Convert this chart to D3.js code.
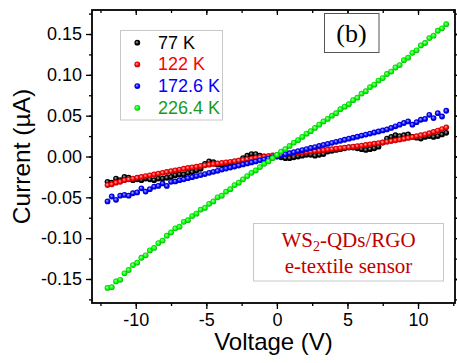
<!DOCTYPE html>
<html>
<head>
<meta charset="utf-8">
<script src="https://cdn.jsdelivr.net/npm/d3@7"></script>
<style>
  html, body { margin: 0; padding: 0; background: #fff; }
  svg { display: block; }
  .tick text { font-family: 'Liberation Sans', Arial, sans-serif; }
</style>
</head>
<body>
<div id="chart"></div>
<script>
'use strict';

// voltage sweep (V)
var voltage = [
  -12, -11.7, -11.4, -11.1, -10.8, -10.5, -10.2, -9.9, -9.6, -9.3,
  -9, -8.7, -8.4, -8.1, -7.8, -7.5, -7.2, -6.9, -6.6, -6.3,
  -6, -5.7, -5.4, -5.1, -4.8, -4.5, -4.2, -3.9, -3.6, -3.3,
  -3, -2.7, -2.4, -2.1, -1.8, -1.5, -1.2, -0.9, -0.6, -0.3,
  0, 0.3, 0.6, 0.9, 1.2, 1.5, 1.8, 2.1, 2.4, 2.7,
  3, 3.3, 3.6, 3.9, 4.2, 4.5, 4.8, 5.1, 5.4, 5.7,
  6, 6.3, 6.6, 6.9, 7.2, 7.5, 7.8, 8.1, 8.4, 8.7,
  9, 9.3, 9.6, 9.9, 10.2, 10.5, 10.8, 11.1, 11.4, 11.7,
  12
];

// current (uA) for each temperature
var current77 = [
  -0.031, -0.032, -0.027, -0.029, -0.025, -0.026, -0.029, -0.028, -0.029, -0.027,
  -0.028, -0.029, -0.027, -0.027, -0.026, -0.025, -0.023, -0.022, -0.022, -0.020,
  -0.019, -0.017, -0.015, -0.009, -0.006, -0.007, -0.010, -0.010, -0.009, -0.008,
  -0.007, -0.005, -0.002, 0.001, 0.003, 0.003, 0.001, 0.000, 0.000, 0.000,
  0.000, -0.001, -0.002, -0.002, -0.001, 0.000, 0.001, 0.002, 0.002, 0.001,
  0.002, 0.003, 0.006, 0.007, 0.008, 0.009, 0.010, 0.011, 0.011, 0.010,
  0.009, 0.008, 0.009, 0.010, 0.012, 0.017, 0.022, 0.024, 0.026, 0.025,
  0.026, 0.027, 0.024, 0.023, 0.022, 0.024, 0.025, 0.024, 0.025, 0.027,
  0.029
];

var current122 = [
  -0.035, -0.034, -0.032, -0.031, -0.029, -0.028, -0.027, -0.026, -0.025, -0.024,
  -0.023, -0.022, -0.021, -0.020, -0.019, -0.018, -0.017, -0.016, -0.015, -0.014,
  -0.0133, -0.0125, -0.0116, -0.0108, -0.010, -0.0093, -0.0086, -0.0079, -0.0072, -0.0065,
  -0.0058, -0.005, -0.0042, -0.0034, -0.0026, -0.0018, -0.001, -0.0002, 0.0005, 0.0012,
  0.0018, 0.0024, 0.003, 0.0035, 0.004, 0.0045, 0.005, 0.0055, 0.006, 0.0066,
  0.0072, 0.0078, 0.0084, 0.009, 0.0096, 0.0102, 0.0108, 0.0114, 0.012, 0.0127,
  0.0134, 0.0141, 0.0148, 0.0156, 0.0164, 0.0172, 0.018, 0.0189, 0.0198, 0.0207,
  0.0217, 0.0227, 0.0238, 0.0249, 0.026, 0.0272, 0.0285, 0.0301, 0.0318, 0.0336,
  0.0357
];

var current1726 = [
  -0.055, -0.049, -0.053, -0.048, -0.047, -0.048, -0.045, -0.044, -0.039, -0.043,
  -0.040, -0.037, -0.036, -0.033, -0.036, -0.031, -0.0305, -0.029, -0.028, -0.0265,
  -0.0253, -0.024, -0.0228, -0.0215, -0.020, -0.0188, -0.0175, -0.016, -0.0148, -0.0135,
  -0.0123, -0.011, -0.0097, -0.0085, -0.0072, -0.006, -0.0047, -0.0035, -0.0022, -0.001,
  0.0003, 0.0015, 0.0028, 0.004, 0.0053, 0.0066, 0.0078, 0.0091, 0.0104, 0.0116,
  0.0129, 0.0142, 0.0154, 0.0167, 0.018, 0.0192, 0.0205, 0.0218, 0.023, 0.0243,
  0.0256, 0.0268, 0.0281, 0.0294, 0.0306, 0.0319, 0.0332, 0.035, 0.037, 0.039,
  0.041, 0.043, 0.039, 0.042, 0.045, 0.046, 0.051, 0.047, 0.053, 0.049,
  0.056
];

var current2264 = [
  -0.161, -0.160, -0.153, -0.151, -0.143, -0.139, -0.133, -0.130, -0.124, -0.121,
  -0.115, -0.112, -0.106, -0.103, -0.097, -0.093, -0.088, -0.086, -0.080, -0.078,
  -0.073, -0.070, -0.065, -0.063, -0.058, -0.055, -0.050, -0.048, -0.043, -0.040,
  -0.035, -0.032, -0.028, -0.024, -0.020, -0.017, -0.013, -0.009, -0.006, -0.002,
  0.002, 0.006, 0.009, 0.013, 0.017, 0.020, 0.024, 0.028, 0.031, 0.035,
  0.039, 0.043, 0.046, 0.050, 0.053, 0.058, 0.061, 0.064, 0.069, 0.072,
  0.077, 0.080, 0.085, 0.088, 0.093, 0.096, 0.101, 0.104, 0.109, 0.112,
  0.118, 0.121, 0.127, 0.130, 0.136, 0.139, 0.145, 0.148, 0.154, 0.157,
  0.162
];

var seriesNames = ['77 K', '122 K', '172.6 K', '226.4 K'];
var seriesValues = [current77, current122, current1726, current2264];

var xTicks = [-10, -5, 0, 5, 10];
var yTicks = [-0.15, -0.10, -0.05, 0.00, 0.05, 0.10, 0.15];

var W = 457
  , H = 363
  , margin = { left: 92, right: 2, top: 10, bottom: 60 }
  , sans = "'Liberation Sans', Arial, sans-serif"
  , serif = "'Liberation Serif', 'Times New Roman', serif"
  , markerColors = ['#000000', '#ff0000', '#0000ff', '#00ff00']
  , textColors = ['#000000', '#ff0000', '#0000ff', '#1a9a1a']
  , markerR = 2.9
;

var x = d3.scaleLinear().domain([-13.1, 12.62]).range([margin.left, W - margin.right]);
var y = d3.scaleLinear().domain([-0.1794, 0.1794]).range([H - margin.bottom, margin.top]);

// keep the plain hyphen the original uses
function hyphen(fmt) {
  return function (d) { return fmt(d).replace('\u2212', '-'); };
}

var svg = d3.select('#chart').append('svg')
    .attr('width', W)
    .attr('height', H);

// sphere-like marker fills
var defs = svg.append('defs');
markerColors.forEach(function (c, i) {
  var g = defs.append('radialGradient')
      .attr('id', 'ball' + i)
      .attr('cx', '50%').attr('cy', '50%').attr('r', '55%')
      .attr('fx', '40%').attr('fy', '38%');
  g.append('stop').attr('offset', '0%').attr('stop-color', d3.interpolateRgb(c, '#ffffff')(0.7));
  g.append('stop').attr('offset', '55%').attr('stop-color', c);
  g.append('stop').attr('offset', '100%').attr('stop-color', d3.interpolateRgb(c, '#000000')(0.35));
});

var x0 = x.range()[0], x1 = x.range()[1], y0 = y.range()[0], y1 = y.range()[1];

// data
var plot = svg.append('g');
seriesValues.forEach(function (vals, i) {
  plot.append('g')
    .selectAll('circle')
    .data(vals)
    .enter()
    .append('circle')
    .attr('cx', function (d, j) { return x(voltage[j]); })
    .attr('cy', function (d) { return y(d); })
    .attr('r', markerR)
    .attr('fill', 'url(#ball' + i + ')');
});

// axes
function minor(axis, scale, values, size) {
  return axis(scale).tickValues(values).tickSize(size).tickFormat('');
}

svg.append('g')
    .attr('transform', 'translate(0,' + y0 + ')')
    .call(minor(d3.axisBottom, x, d3.range(-12.5, 12.6, 2.5), 3));
svg.append('g')
    .attr('transform', 'translate(0,' + y0 + ')')
    .call(d3.axisBottom(x).tickValues(xTicks).tickSize(6).tickPadding(4).tickFormat(hyphen(d3.format('d'))));

svg.append('g')
    .attr('transform', 'translate(' + x0 + ',0)')
    .call(minor(d3.axisLeft, y, d3.range(-0.175, 0.18, 0.025), 3));
svg.append('g')
    .attr('transform', 'translate(' + x0 + ',0)')
    .call(d3.axisLeft(y).tickValues(yTicks).tickSize(6).tickPadding(4).tickFormat(hyphen(d3.format('.2f'))));

// mirrored top (inward) and right (outward) ticks
svg.append('g')
    .attr('transform', 'translate(0,' + y1 + ')')
    .call(minor(d3.axisBottom, x, d3.range(-12.5, 12.6, 2.5), 3));
svg.append('g')
    .attr('transform', 'translate(0,' + y1 + ')')
    .call(minor(d3.axisBottom, x, xTicks, 5));
svg.append('g')
    .attr('transform', 'translate(' + x1 + ',0)')
    .call(minor(d3.axisRight, y, d3.range(-0.175, 0.18, 0.025), 3));
svg.append('g')
    .attr('transform', 'translate(' + x1 + ',0)')
    .call(minor(d3.axisRight, y, yTicks, 6));

svg.selectAll('.domain').remove();
svg.selectAll('.tick line').attr('stroke', '#000').attr('stroke-width', 1.3);
svg.selectAll('.tick text').attr('font-size', 18).attr('fill', '#000');

// frame
svg.append('rect')
    .attr('x', x0).attr('y', y1)
    .attr('width', x1 - x0).attr('height', y0 - y1)
    .attr('fill', 'none')
    .attr('stroke', '#000')
    .attr('stroke-width', 1.8);

// axis titles
svg.append('text')
    .attr('x', (x0 + x1) / 2).attr('y', 350)
    .attr('text-anchor', 'middle')
    .attr('font-family', sans).attr('font-size', 24)
    .text('Voltage (V)');

svg.append('text')
    .attr('transform', 'translate(30,' + y(0) + ') rotate(-90)')
    .attr('text-anchor', 'middle')
    .attr('font-family', sans).attr('font-size', 24.5)
    .text('Current (\u00b5A)');

// legend
var legend = svg.append('g');
legend.append('rect')
    .attr('x', 120.5).attr('y', 30.5)
    .attr('width', 102).attr('height', 89.5)
    .attr('fill', '#fff')
    .attr('stroke', '#c8c8c8');

seriesNames.forEach(function (name, i) {
  var cy = 42.7 + i * 21.7;
  legend.append('circle')
      .attr('cx', 137.3).attr('cy', cy)
      .attr('r', markerR)
      .attr('fill', 'url(#ball' + i + ')');
  legend.append('text')
      .attr('x', 158).attr('y', cy + 5.8)
      .attr('font-family', sans).attr('font-size', 18)
      .attr('fill', textColors[i])
      .text(name);
});

// panel label
svg.append('rect')
    .attr('x', 324.5).attr('y', 13.5)
    .attr('width', 54.5).attr('height', 39)
    .attr('fill', '#fff')
    .attr('stroke', '#555')
    .attr('stroke-width', 1);
svg.append('text')
    .attr('x', 351.5).attr('y', 42)
    .attr('text-anchor', 'middle')
    .attr('font-family', serif).attr('font-size', 26)
    .text('(b)');

// sample note
svg.append('rect')
    .attr('x', 253.5).attr('y', 223.5)
    .attr('width', 190).attr('height', 57.5)
    .attr('fill', '#fff')
    .attr('stroke', '#c8c8c8');
var note = svg.append('text')
    .attr('x', 348.5).attr('y', 246.5)
    .attr('text-anchor', 'middle')
    .attr('font-family', serif).attr('font-size', 21)
    .attr('fill', '#c00000');
note.append('tspan').text('WS');
note.append('tspan').attr('font-size', 14).attr('dy', 4).text('2');
note.append('tspan').attr('dy', -4).text('-QDs/RGO');
svg.append('text')
    .attr('x', 348.5).attr('y', 272.5)
    .attr('text-anchor', 'middle')
    .attr('font-family', serif).attr('font-size', 21)
    .attr('fill', '#c00000')
    .text('e-textile sensor');
</script>
</body>
</html>
